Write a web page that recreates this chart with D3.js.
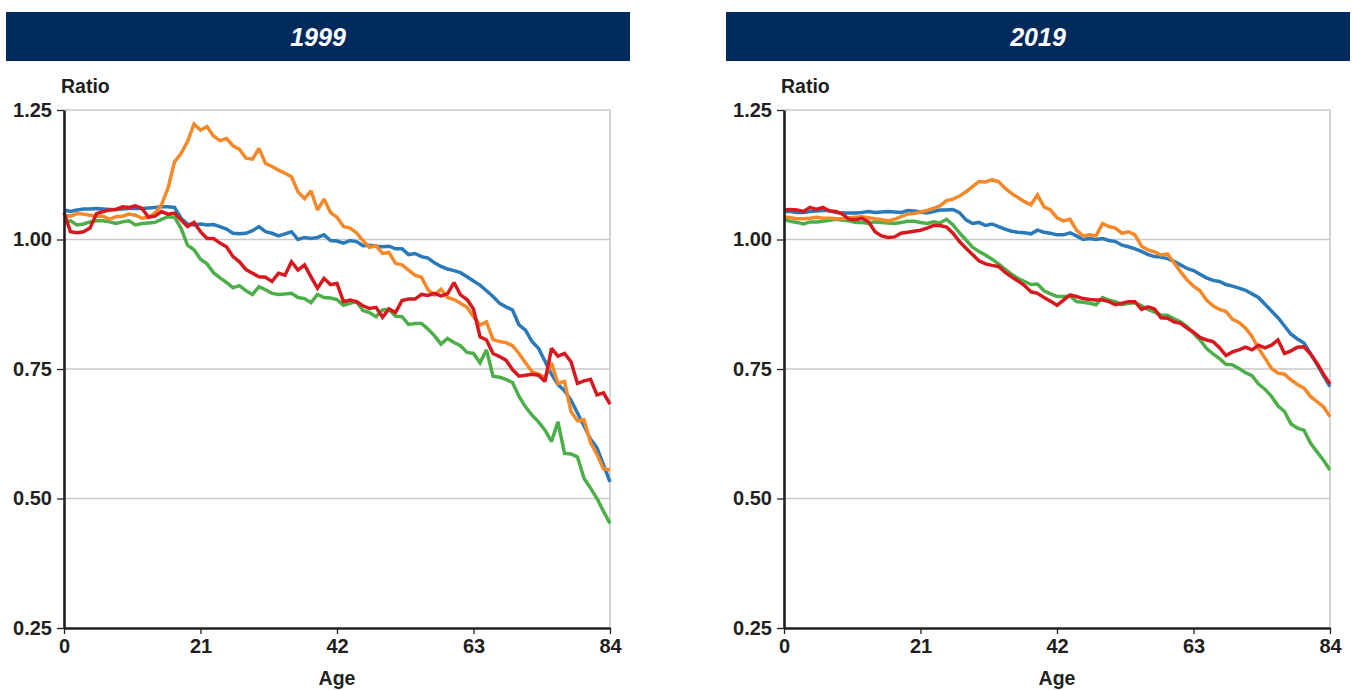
<!DOCTYPE html>
<html>
<head>
<meta charset="utf-8">
<script src="https://cdn.jsdelivr.net/npm/d3@7"></script>
<style>
  html, body { margin: 0; padding: 0; background: #ffffff; }
  svg { display: block; font-family: "Liberation Sans", Arial, Helvetica, sans-serif; }
</style>
</head>
<body>
<svg id="chart" width="1352" height="690"></svg>
<script>
// Ages 0..84 on the horizontal axis
const ages = d3.range(0, 85);
const xTickValues = [0, 21, 42, 63, 84];
const yTickValues = [0.25, 0.50, 0.75, 1.00, 1.25];
const panelTitles = ["1999", "2019"];

// 1999 ratios by age
const blue1999 = [1.057,1.054,1.057,1.059,1.059,1.060,1.059,1.058,1.058,1.059,1.060,1.060,1.060,1.061,1.062,1.063,1.063,1.062,1.041,1.030,1.028,1.030,1.028,1.029,1.025,1.020,1.012,1.011,1.012,1.017,1.025,1.015,1.012,1.007,1.011,1.015,1.000,1.004,1.002,1.004,1.009,0.998,0.997,0.993,0.998,0.996,0.988,0.989,0.987,0.986,0.987,0.982,0.982,0.971,0.973,0.967,0.964,0.955,0.948,0.943,0.940,0.936,0.928,0.920,0.912,0.901,0.890,0.877,0.870,0.864,0.835,0.825,0.803,0.790,0.765,0.740,0.720,0.708,0.690,0.665,0.640,0.615,0.598,0.565,0.532];
const orange1999 = [1.047,1.045,1.050,1.049,1.047,1.045,1.045,1.039,1.044,1.045,1.049,1.047,1.041,1.043,1.051,1.067,1.099,1.150,1.166,1.189,1.223,1.211,1.218,1.200,1.191,1.195,1.181,1.174,1.157,1.155,1.176,1.147,1.141,1.134,1.128,1.121,1.092,1.079,1.094,1.057,1.078,1.052,1.043,1.025,1.022,1.013,0.998,0.985,0.988,0.973,0.975,0.954,0.951,0.941,0.931,0.927,0.903,0.893,0.904,0.888,0.884,0.877,0.869,0.851,0.835,0.841,0.807,0.803,0.801,0.795,0.780,0.762,0.745,0.740,0.734,0.762,0.722,0.726,0.668,0.650,0.652,0.608,0.585,0.557,0.555];
const green1999 = [1.034,1.036,1.028,1.030,1.034,1.036,1.036,1.034,1.031,1.034,1.036,1.028,1.031,1.032,1.033,1.039,1.044,1.043,1.022,0.989,0.980,0.962,0.953,0.936,0.926,0.917,0.907,0.911,0.901,0.894,0.909,0.903,0.896,0.894,0.895,0.896,0.888,0.886,0.878,0.894,0.888,0.887,0.884,0.873,0.877,0.880,0.863,0.859,0.851,0.864,0.865,0.852,0.851,0.836,0.838,0.838,0.827,0.814,0.798,0.809,0.801,0.795,0.782,0.780,0.762,0.787,0.736,0.734,0.730,0.724,0.697,0.677,0.661,0.648,0.632,0.610,0.648,0.587,0.586,0.580,0.539,0.520,0.500,0.475,0.452];
const red1999 = [1.052,1.015,1.013,1.015,1.022,1.050,1.054,1.057,1.058,1.063,1.062,1.065,1.060,1.043,1.045,1.054,1.049,1.051,1.038,1.025,1.033,1.015,1.002,1.002,0.993,0.986,0.967,0.957,0.942,0.935,0.928,0.927,0.919,0.935,0.931,0.957,0.941,0.951,0.928,0.906,0.925,0.913,0.915,0.880,0.883,0.880,0.872,0.867,0.869,0.850,0.866,0.859,0.882,0.885,0.885,0.894,0.892,0.896,0.891,0.895,0.917,0.893,0.884,0.866,0.812,0.806,0.780,0.774,0.767,0.749,0.736,0.738,0.740,0.738,0.726,0.790,0.775,0.780,0.764,0.722,0.727,0.730,0.700,0.704,0.682];

// 2019 ratios by age
const blue2019 = [1.054,1.054,1.052,1.052,1.054,1.055,1.056,1.056,1.052,1.051,1.051,1.051,1.052,1.054,1.052,1.053,1.054,1.053,1.052,1.056,1.055,1.053,1.051,1.054,1.057,1.057,1.058,1.052,1.038,1.031,1.033,1.027,1.030,1.025,1.020,1.016,1.014,1.013,1.011,1.018,1.014,1.012,1.009,1.009,1.013,1.007,1.000,1.002,1.000,1.002,0.998,0.996,0.989,0.986,0.982,0.977,0.971,0.967,0.966,0.963,0.958,0.951,0.944,0.940,0.933,0.926,0.921,0.919,0.913,0.910,0.906,0.902,0.895,0.888,0.875,0.862,0.849,0.833,0.817,0.808,0.800,0.780,0.759,0.737,0.716];
const orange2019 = [1.044,1.042,1.040,1.040,1.041,1.043,1.041,1.041,1.040,1.040,1.042,1.043,1.044,1.042,1.040,1.038,1.036,1.039,1.044,1.049,1.050,1.053,1.056,1.060,1.065,1.075,1.078,1.084,1.092,1.102,1.112,1.111,1.115,1.112,1.099,1.089,1.081,1.073,1.067,1.086,1.063,1.057,1.042,1.036,1.039,1.018,1.007,1.009,1.007,1.031,1.025,1.022,1.012,1.015,1.009,0.987,0.980,0.976,0.970,0.972,0.955,0.938,0.922,0.910,0.901,0.883,0.872,0.865,0.861,0.846,0.840,0.829,0.813,0.790,0.771,0.751,0.742,0.740,0.729,0.720,0.713,0.697,0.687,0.677,0.658];
const green2019 = [1.039,1.035,1.033,1.030,1.034,1.034,1.035,1.037,1.039,1.037,1.036,1.033,1.033,1.031,1.034,1.033,1.032,1.031,1.033,1.035,1.035,1.033,1.031,1.034,1.032,1.039,1.028,1.013,0.999,0.985,0.977,0.970,0.962,0.953,0.943,0.933,0.925,0.919,0.913,0.914,0.901,0.895,0.890,0.890,0.891,0.880,0.879,0.877,0.874,0.888,0.883,0.880,0.874,0.877,0.878,0.872,0.865,0.860,0.854,0.854,0.847,0.841,0.832,0.819,0.806,0.790,0.779,0.770,0.759,0.758,0.751,0.743,0.737,0.721,0.711,0.697,0.679,0.668,0.644,0.636,0.632,0.607,0.590,0.574,0.555];
const red2019 = [1.057,1.058,1.057,1.054,1.062,1.058,1.062,1.055,1.054,1.049,1.039,1.038,1.041,1.034,1.015,1.007,1.004,1.005,1.012,1.014,1.016,1.018,1.022,1.027,1.027,1.024,1.012,0.996,0.983,0.971,0.959,0.953,0.950,0.948,0.937,0.928,0.920,0.911,0.899,0.896,0.888,0.881,0.873,0.883,0.893,0.890,0.886,0.884,0.883,0.883,0.880,0.874,0.877,0.880,0.880,0.865,0.870,0.866,0.849,0.848,0.841,0.838,0.829,0.821,0.811,0.806,0.803,0.791,0.776,0.783,0.787,0.792,0.787,0.796,0.791,0.796,0.806,0.780,0.785,0.792,0.793,0.779,0.761,0.740,0.721];

const panels = [
  { title: panelTitles[0], series: [blue1999, green1999, orange1999, red1999] },
  { title: panelTitles[1], series: [blue2019, green2019, orange2019, red2019] }
];
const lineColors = ["#2a7ab9", "#4daf4a", "#f5892a", "#d7191f"];

const svg = d3.select("#chart");
const panelOffset = 720;

panels.forEach((p, i) => {
  const ox = i * panelOffset;
  const g = svg.append("g").attr("transform", `translate(${ox},0)`);

  // Title banner
  g.append("rect")
    .attr("x", 6).attr("y", 12).attr("width", 624).attr("height", 49)
    .attr("fill", "#002a5c");
  g.append("text")
    .attr("x", 318).attr("y", 45.5)
    .attr("text-anchor", "middle")
    .attr("fill", "#ffffff")
    .attr("font-size", 25).attr("font-weight", "bold").attr("font-style", "italic")
    .text(p.title);

  const x = d3.scaleLinear().domain([0, 84]).range([64, 610]);
  const y = d3.scaleLinear().domain([0.25, 1.25]).range([628, 110]);

  // Horizontal gridlines
  g.append("g").selectAll("line")
    .data(yTickValues.filter(v => v > 0.25))
    .join("line")
    .attr("x1", x(0)).attr("x2", x(84))
    .attr("y1", d => y(d)).attr("y2", d => y(d))
    .attr("stroke", "#c9c9c9").attr("stroke-width", 1.6);

  // Right frame edge
  g.append("line")
    .attr("x1", x(84)).attr("x2", x(84))
    .attr("y1", y(1.25)).attr("y2", y(0.25))
    .attr("stroke", "#c9c9c9").attr("stroke-width", 1.6);

  // Series lines
  const line = d3.line().x((d, k) => x(ages[k])).y(d => y(d));
  g.append("g").selectAll("path")
    .data(p.series)
    .join("path")
    .attr("d", d => line(d))
    .attr("fill", "none")
    .attr("stroke", (d, k) => lineColors[k])
    .attr("stroke-width", 3.5)
    .attr("stroke-linejoin", "miter")
    .attr("stroke-miterlimit", 2);

  // Y axis
  const yAxis = g.append("g")
    .attr("transform", `translate(${x(0)},0)`)
    .call(d3.axisLeft(y).tickValues(yTickValues).tickFormat(d3.format(".2f")).tickSize(7).tickSizeOuter(0).tickPadding(5));
  yAxis.select(".domain").attr("stroke", "#231f20").attr("stroke-width", 2.6);
  yAxis.selectAll(".tick line").attr("stroke", "#231f20").attr("stroke-width", 1.3);
  yAxis.selectAll(".tick text")
    .attr("fill", "#231f20").attr("font-size", 20).attr("font-weight", "bold")
    .attr("font-family", "'Liberation Sans', Arial, sans-serif");

  // X axis
  const xAxis = g.append("g")
    .attr("transform", `translate(0,${y(0.25)})`)
    .call(d3.axisBottom(x).tickValues(xTickValues).tickSize(6).tickSizeOuter(0).tickPadding(5));
  xAxis.select(".domain").attr("stroke", "#231f20").attr("stroke-width", 2.6);
  xAxis.selectAll(".tick line").attr("stroke", "#231f20").attr("stroke-width", 1.3);
  xAxis.selectAll(".tick text")
    .attr("fill", "#231f20").attr("font-size", 20).attr("font-weight", "bold")
    .attr("font-family", "'Liberation Sans', Arial, sans-serif");

  // Axis titles
  g.append("text")
    .attr("x", 61).attr("y", 93)
    .attr("fill", "#231f20").attr("font-size", 19.5).attr("font-weight", "bold")
    .text("Ratio");
  g.append("text")
    .attr("x", (x(0) + x(84)) / 2).attr("y", 685)
    .attr("text-anchor", "middle")
    .attr("fill", "#231f20").attr("font-size", 19.5).attr("font-weight", "bold")
    .text("Age");
});
</script>
</body>
</html>
